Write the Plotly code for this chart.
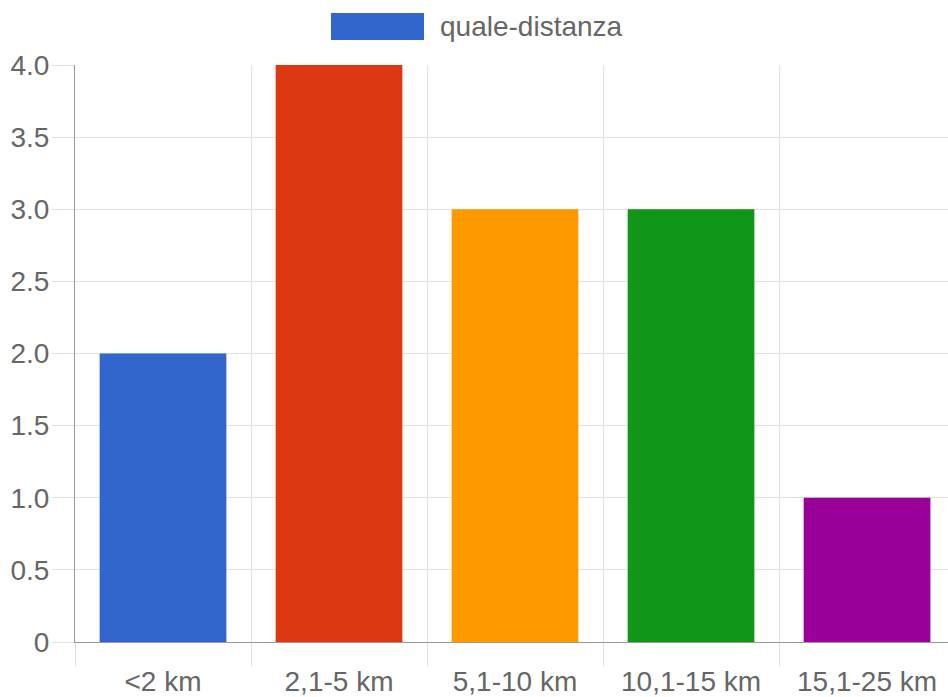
import plotly.graph_objects as go

categories = ["<2 km", "2,1-5 km", "5,1-10 km", "10,1-15 km", "15,1-25 km"]
values = [2, 4, 3, 3, 1]
colors = ["#3366cc", "#dc3912", "#ff9900", "#109618", "#990099"]
series_name = "quale-distanza"
y_tickvals = [0, 0.5, 1.0, 1.5, 2.0, 2.5, 3.0, 3.5, 4.0]
y_ticktext = ["0", "0.5", "1.0", "1.5", "2.0", "2.5", "3.0", "3.5", "4.0"]

W, H = 948, 697
ML, MR, MT, MB = 75, 0, 65, 55
plot_w = W - ML - MR
plot_h = H - MT - MB


def px_x(x):
    return (x - ML) / plot_w


def px_y(y):
    return (H - MB - y) / plot_h


font = dict(family="Liberation Sans, Arial, sans-serif", size=28, color="#666666")

fig = go.Figure(
    go.Bar(
        x=categories,
        y=values,
        marker=dict(color=colors, line=dict(width=0)),
        name=series_name,
        showlegend=False,
        hoverinfo="x+y",
    )
)

# legend drawn as in the original: wide colour box plus label
fig.add_shape(
    type="rect",
    xref="paper",
    yref="paper",
    x0=px_x(331),
    x1=px_x(424),
    y0=px_y(40),
    y1=px_y(13),
    fillcolor=colors[0],
    line=dict(width=0),
)
fig.add_annotation(
    text=series_name,
    xref="paper",
    yref="paper",
    x=px_x(438),
    y=px_y(27),
    xanchor="left",
    yanchor="middle",
    showarrow=False,
    font=font,
)

fig.update_layout(
    width=W,
    height=H,
    margin=dict(l=ML, r=MR, t=MT, b=MB),
    paper_bgcolor="white",
    plot_bgcolor="white",
    bargap=0.28,
    font=font,
)
# the original chart runs a little past the right edge of the canvas
fig.update_xaxes(
    type="category",
    range=[-0.5, 4.46],
    tickson="boundaries",
    ticks="outside",
    ticklen=23,
    tickcolor="#e0e0e0",
    tickwidth=1,
    ticklabelstandoff=14,
    showgrid=True,
    gridcolor="#e0e0e0",
    showline=True,
    linecolor="#999999",
    linewidth=1,
    tickfont=font,
)
fig.update_yaxes(
    range=[0, 4],
    tickvals=y_tickvals,
    ticktext=y_ticktext,
    ticks="outside",
    ticklen=22,
    tickcolor="#e0e0e0",
    tickwidth=1,
    ticklabelstandoff=-3,
    showgrid=True,
    gridcolor="#e0e0e0",
    zeroline=False,
    showline=True,
    linecolor="#999999",
    linewidth=1,
    tickfont=font,
)

fig.write_html(
    "out.html",
    config={"displayModeBar": False},
    post_script="document.body.style.margin='0';",
)
